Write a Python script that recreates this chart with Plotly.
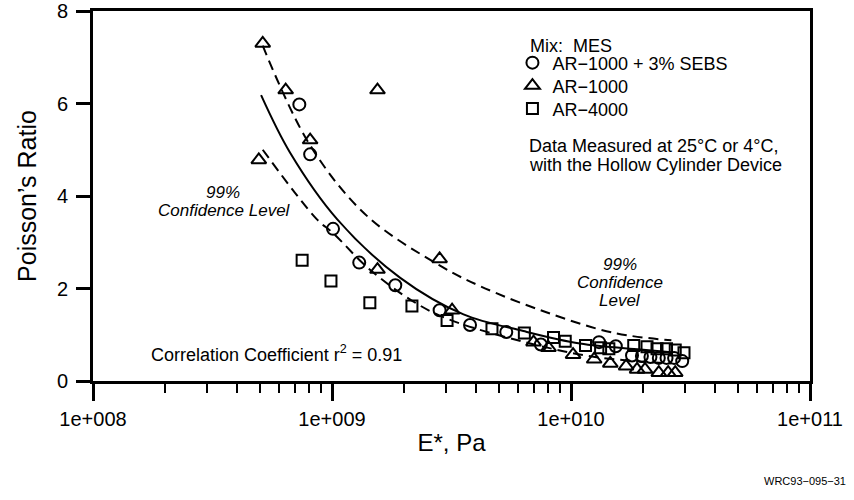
import plotly.graph_objects as go

# ---------------- data ----------------
sebs_E = [7.3e8, 8.1e8, 1.01e9, 1.30e9, 1.84e9, 2.82e9, 3.78e9, 5.36e9, 7.48e9,
          1.31e10, 1.54e10, 1.80e10, 1.98e10, 2.15e10, 2.33e10, 2.51e10, 2.70e10, 2.92e10]
sebs_v = [5.98, 4.90, 3.29, 2.56, 2.07, 1.53, 1.21, 1.06, 0.79,
          0.84, 0.75, 0.55, 0.54, 0.52, 0.50, 0.50, 0.50, 0.43]

ar1000_E = [5.13e8, 6.4e8, 1.55e9, 8.1e8, 4.94e8, 1.55e9, 2.82e9, 3.18e9, 6.97e9, 8.05e9,
            1.02e10, 1.25e10, 1.46e10, 1.70e10, 1.89e10, 2.04e10, 2.33e10, 2.55e10, 2.73e10]
ar1000_v = [7.30, 6.29, 6.29, 5.21, 4.78, 2.41, 2.64, 1.53, 0.84, 0.72,
            0.57, 0.47, 0.38, 0.32, 0.25, 0.25, 0.18, 0.18, 0.18]

ar4000_E = [7.5e8, 9.9e8, 1.44e9, 2.16e9, 3.03e9, 4.67e9, 6.38e9, 8.45e9, 9.46e9,
            1.15e10, 1.33e10, 1.44e10, 1.83e10, 2.08e10, 2.29e10, 2.51e10, 2.73e10, 2.97e10]
ar4000_v = [2.61, 2.16, 1.69, 1.62, 1.31, 1.13, 1.04, 0.94, 0.86,
            0.77, 0.72, 0.70, 0.77, 0.74, 0.70, 0.70, 0.67, 0.61]

fit_E = [5.05e8, 6.67e8, 1.05e9, 1.93e9, 3.55e9, 6.32e9, 1.09e10, 1.95e10, 2.63e10]
fit_v = [6.18, 4.94, 3.50, 2.23, 1.44, 1.08, 0.81, 0.68, 0.62]

upper_E = [5.13e8, 8.09e8, 1.40e9, 2.82e9, 4.17e9, 7.94e9, 1.51e10, 2.63e10]
upper_v = [7.25, 5.10, 3.57, 2.50, 2.05, 1.48, 1.04, 0.88]

lower_E = [5.13e8, 8.63e8, 1.01e9, 1.41e9, 2.14e9, 3.02e9, 6.31e9, 1.26e10, 2.63e10]
lower_v = [5.00, 3.50, 3.20, 2.45, 1.75, 1.35, 0.85, 0.52, 0.38]

x_tick_vals = [1e8, 1e9, 1e10, 1e11]
x_tick_text = ["1e+008", "1e+009", "1e+010", "1e+011"]
y_tick_vals = [0, 2, 4, 6, 8]

series_names = ["AR\u22121000 + 3% SEBS", "AR\u22121000", "AR\u22124000"]

# ---------------- figure ----------------
FONT = "Liberation Sans, Arial, Helvetica, sans-serif"
PLOT_L, PLOT_R, PLOT_T, PLOT_B = 93, 810, 11, 381.5

def px_x(p):
    return (p - PLOT_L) / (PLOT_R - PLOT_L)

def px_y(p):
    return (PLOT_B - p) / (PLOT_B - PLOT_T)

fig = go.Figure()

dash_style = dict(color="black", width=2, dash="10px,6px")
fig.add_trace(go.Scatter(x=upper_E, y=upper_v, mode="lines", line_shape="spline",
                         line=dash_style, showlegend=False, hoverinfo="skip"))
fig.add_trace(go.Scatter(x=lower_E, y=lower_v, mode="lines", line_shape="spline",
                         line=dash_style, showlegend=False, hoverinfo="skip"))
fig.add_trace(go.Scatter(x=fit_E, y=fit_v, mode="lines", line_shape="spline",
                         line=dict(color="black", width=2), showlegend=False, hoverinfo="skip"))

mline = dict(color="black", width=2)
fig.add_trace(go.Scatter(x=sebs_E, y=sebs_v, mode="markers", name=series_names[0],
                         legend="legend",
                         marker=dict(symbol="circle-open", size=12, color="black", line=mline)))
fig.add_trace(go.Scatter(x=ar1000_E, y=ar1000_v, mode="markers", name=series_names[1],
                         legend="legend2",
                         marker=dict(symbol="triangle-up-open", size=13, color="black", line=mline)))
fig.add_trace(go.Scatter(x=ar4000_E, y=ar4000_v, mode="markers", name=series_names[2],
                         legend="legend3",
                         marker=dict(symbol="square-open", size=11, color="black", line=mline)))

minor_vals = [k * 10 ** d for d in (8, 9, 10) for k in range(2, 10)]

def leg(ypix):
    return dict(x=0.585, y=px_y(ypix), xanchor="left", yanchor="middle",
                bgcolor="rgba(0,0,0,0)", borderwidth=0,
                font=dict(size=18, family=FONT, color="black"), itemwidth=30)

fig.update_layout(
    width=854, height=500,
    margin=dict(l=PLOT_L, r=854 - PLOT_R, t=PLOT_T, b=500 - PLOT_B),
    paper_bgcolor="white", plot_bgcolor="white",
    font=dict(family=FONT, size=18, color="black"),
    showlegend=True,
    legend=leg(63), legend2=leg(86), legend3=leg(109),
    xaxis=dict(type="log", range=[8, 11], automargin=False,
               tickvals=x_tick_vals, ticktext=x_tick_text,
               ticks="outside", ticklen=17, tickwidth=2.5, tickcolor="black",
               tickfont=dict(size=20), ticklabelstandoff=1,
               minor=dict(tickvals=minor_vals, ticks="outside", ticklen=9,
                          tickwidth=2, tickcolor="black", showgrid=False),
               showline=True, linewidth=3, linecolor="black", mirror=True,
               showgrid=False, zeroline=False,
               title=dict(text="E*, Pa", font=dict(size=24), standoff=6)),
    yaxis=dict(range=[0, 8], tickvals=y_tick_vals, automargin=False,
               ticks="outside", ticklen=14, tickwidth=2.5, tickcolor="black",
               tickfont=dict(size=20), ticklabelstandoff=4,
               showline=True, linewidth=3, linecolor="black", mirror=True,
               showgrid=False, zeroline=False,
               title=dict(text="Poisson\u2019s Ratio", font=dict(size=25), standoff=14)),
)

def note(text, x, y, size=18, italic=False, anchor="left"):
    fig.add_annotation(text=text, x=x, y=y, xref="paper", yref="paper",
                       xanchor=anchor, yanchor="middle", showarrow=False,
                       font=dict(size=size, family=FONT, color="black",
                                 style="italic" if italic else "normal"))

note("Mix:  MES", px_x(528), px_y(46))
note("Data Measured at 25\u00b0C or 4\u00b0C,", px_x(527), px_y(146))
note("with the Hollow Cylinder Device", px_x(527), px_y(165))
note("99%", px_x(223), px_y(193), size=17, italic=True, anchor="center")
note("Confidence Level", px_x(224), px_y(211), size=17, italic=True, anchor="center")
note("99%", px_x(620), px_y(265), size=17, italic=True, anchor="center")
note("Confidence", px_x(620), px_y(283), size=17, italic=True, anchor="center")
note("Level", px_x(620), px_y(301), size=17, italic=True, anchor="center")
note("Correlation Coefficient r<sup>2</sup> = 0.91", px_x(149), px_y(354))
note("WRC93\u2212095\u221231", px_x(848), px_y(482), size=11, anchor="right")

fig.write_html("out.html")
